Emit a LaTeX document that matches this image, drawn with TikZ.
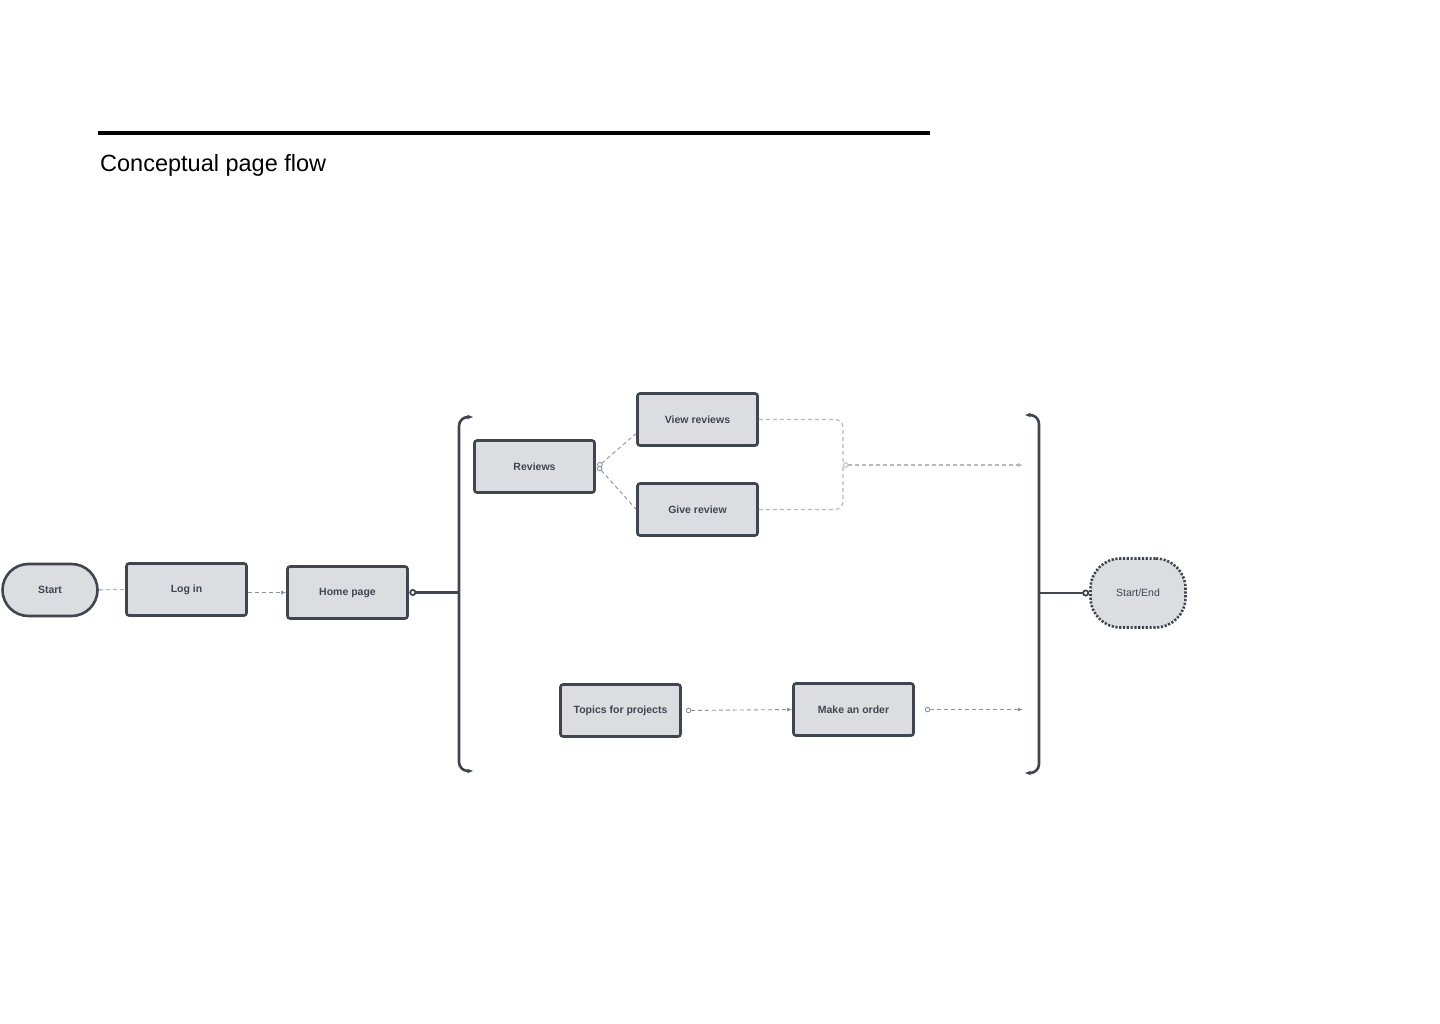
\documentclass[tikz,border=0pt]{standalone}
\usepackage{fontspec}
\setmainfont{Liberation Sans}
\usepackage{xcolor}
\usetikzlibrary{arrows.meta}
\definecolor{flowdark}{RGB}{64, 70, 80}
\definecolor{flowfill}{RGB}{220, 221, 224}
\definecolor{flowgray}{RGB}{140, 146, 155}
\definecolor{flowlight}{RGB}{180, 184, 190}

\begin{document}
\begin{tikzpicture}[x=1pt, y=-1pt,
  pagebox/.style={draw=flowdark, fill=flowfill, line width=2.6pt, rounded corners=2.5pt,
    minimum width=120pt, minimum height=52pt, text=flowdark,
    font=\fontsize{10.5}{12}\selectfont\bfseries},
  terminal/.style={pagebox, rounded corners=26pt, minimum width=95pt},
  link/.style={draw=flowgray, line width=0.9pt, dash pattern=on 4pt off 3pt},
  lightlink/.style={draw=flowlight, line width=1.1pt, dash pattern=on 4pt off 3pt},
  bar/.style={draw=flowdark, line width=2.6pt},
  dot/.tip={Circle[open, length=5.5pt, width=5.5pt, line width=0.9pt, fill=white]},
  tip/.style={-{Latex[length=5pt, width=4pt]}},
  ring/.style={dot-{Latex[length=5pt, width=4pt]}},
  knob/.tip={Circle[open, length=7pt, width=7pt, line width=1.8pt, fill=white]}]
\useasboundingbox (0,0) rectangle (1440,1024);

% Title
\draw[line width=4pt] (98,133) -- (930,133);
\node[anchor=base west, inner sep=0pt, font=\fontsize{23.5}{28}\selectfont] (title) at (100,172) {Conceptual page flow};

% Entry
\node[terminal] (start) at (50,590) {Start};
\node[pagebox] (login) at (186.5,589.5) {Log in};
\node[pagebox] (home) at (347.5,592.5) {Home page};
\draw[link] (start) -- (login);
\draw[link, tip] (login.east |- home) -- (home.west);

% Left bracket
\coordinate (lbtop) at (473,417);
\coordinate (lbbot) at (473,771);
\coordinate (lbrack) at (459,592.5);
\draw[bar, rounded corners=9pt, {Stealth[length=6pt]}-{Stealth[length=6pt]}]
  (lbtop) -- (459,417) -- (459,771) -- (lbbot);
\draw[bar, knob-] ([xshift=0.5pt]home.east) -- (lbrack);

% Reviews
\node[pagebox] (reviews) at (534.5,466.5) {Reviews};
\node[pagebox] (view) at (697.5,419.5) {View reviews};
\node[pagebox] (give) at (697.5,509.5) {Give review};
\draw[link, dot-] ([xshift=2pt]reviews.east) -- ([yshift=-14pt]view.west);
\draw[link, dot-] ([xshift=2pt]reviews.east) -- (give.west);
\coordinate (merge) at (843,465);
\coordinate (rin) at (1023,465);
\draw[lightlink, rounded corners=8pt] (view.east) -| (merge);
\draw[lightlink, rounded corners=8pt] (give.east) -| (merge);
\draw[lightlink, ring] (merge) -- (rin);

% Projects
\node[pagebox] (topics) at (620.5,710.5) {Topics for projects};
\node[pagebox] (order) at (853.5,709.5) {Make an order};
\draw[link, ring] ([xshift=4pt]topics.east) -- (order.west);
\draw[link, ring] ([xshift=10pt]order.east) -- (order.east -| rin);

% Right bracket
\coordinate (rbtop) at (1025,415);
\coordinate (rbbot) at (1025,773);
\coordinate (rbrack) at (1039,593);
\draw[bar, rounded corners=9pt, {Stealth[length=6pt]}-{Stealth[length=6pt]}]
  (rbtop) -- (1039,415) -- (1039,773) -- (rbbot);

% End
\node[pagebox, rounded corners=30pt, minimum width=95pt, minimum height=69pt,
  dash pattern=on 2.2pt off 1.6pt, font=\fontsize{10.5}{12}\selectfont] (finish) at (1138,593) {Start/End};
\draw[bar, -knob] (rbrack) -- (finish.west);
\end{tikzpicture}
\end{document}
